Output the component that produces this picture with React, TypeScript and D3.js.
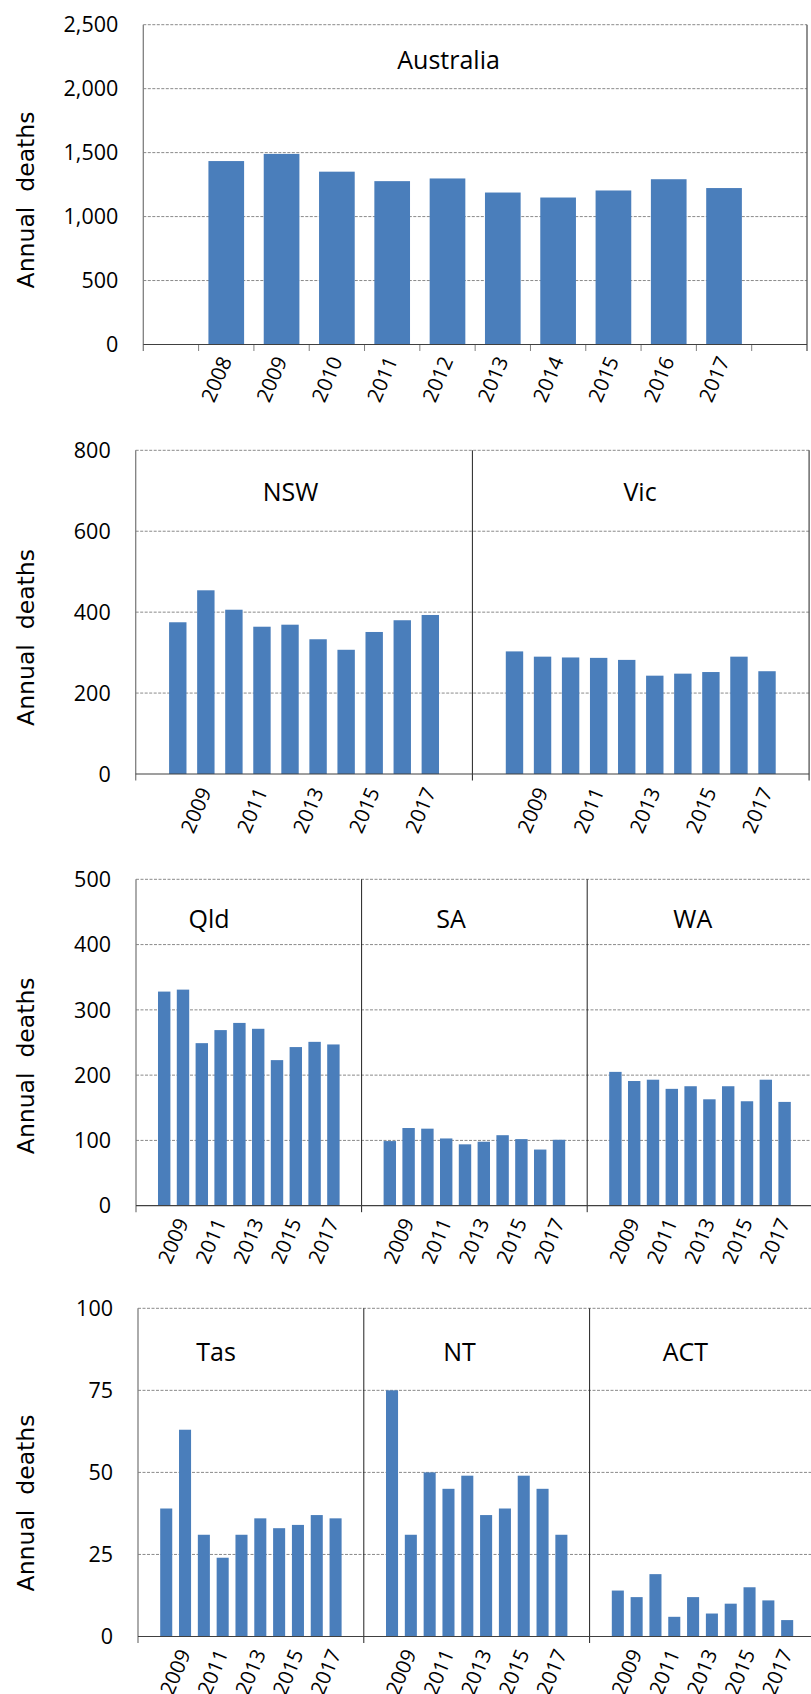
import React from 'react';
import * as d3 from 'd3';

// ---------- data ----------
const years = ['2008', '2009', '2010', '2011', '2012', '2013', '2014', '2015', '2016', '2017'];
const oddYears = ['2009', '2011', '2013', '2015', '2017'];

const australia = [1434, 1490, 1351, 1277, 1298, 1188, 1149, 1204, 1292, 1223];
const nsw = [375, 454, 406, 364, 369, 333, 307, 351, 380, 393];
const vic = [303, 290, 288, 287, 282, 243, 248, 252, 290, 254];
const qld = [328, 331, 249, 269, 280, 271, 223, 243, 251, 247];
const sa = [99, 119, 118, 103, 94, 98, 108, 102, 86, 101];
const wa = [205, 191, 193, 179, 183, 163, 183, 160, 193, 159];
const tas = [39, 63, 31, 24, 31, 36, 33, 34, 37, 36];
const nt = [75, 31, 50, 45, 49, 37, 39, 49, 45, 31];
const act = [14, 12, 19, 6, 12, 7, 10, 15, 11, 5];

const ticksAus = [0, 500, 1000, 1500, 2000, 2500];
const ticksBig = [0, 200, 400, 600, 800];
const ticksMid = [0, 100, 200, 300, 400, 500];
const ticksSmall = [0, 25, 50, 75, 100];

const yTitle = 'Annual  deaths';

// ---------- layout ----------
const W = 811;
const H = 1694;
const BAR = '#4A7EBB';
const GRID = '#8a8a8a';
const FONT = "'Open Sans', 'Liberation Sans', sans-serif";
const TITLE_FONT = "'DejaVu Sans', Verdana, sans-serif";

type Facet = { name: string; values: number[]; titleFrac: number };
type Layout = {
  left: number; top: number; bottom: number; facetW: number; pad: number;
  titleY: number; yTitleY: number; slotTicks: boolean; border: boolean; labelDy: number;
};

const panels: { layout: Layout; facets: Facet[]; ticks: number[]; comma: boolean; labels: string[] }[] = [
  {
    layout: { left: 143.3, top: 24.7, bottom: 344.5, facetW: 663.7, pad: 0.355, titleY: 69, yTitleY: 200, slotTicks: true, border: true, labelDy: 16 },
    facets: [{ name: 'Australia', values: australia, titleFrac: 0.46 }],
    ticks: ticksAus, comma: true, labels: years,
  },
  {
    layout: { left: 135.7, top: 450.3, bottom: 774, facetW: 336.7, pad: 0.38, titleY: 500.7, yTitleY: 637.5, slotTicks: false, border: true, labelDy: 17.5 },
    facets: [
      { name: 'NSW', values: nsw, titleFrac: 0.46 },
      { name: 'Vic', values: vic, titleFrac: 0.498 },
    ],
    ticks: ticksBig, comma: false, labels: oddYears,
  },
  {
    layout: { left: 136, top: 879.3, bottom: 1205.7, facetW: 225.6, pad: 0.34, titleY: 927.7, yTitleY: 1065.8, slotTicks: false, border: true, labelDy: 16.5 },
    facets: [
      { name: 'Qld', values: qld, titleFrac: 0.324 },
      { name: 'SA', values: sa, titleFrac: 0.396 },
      { name: 'WA', values: wa, titleFrac: 0.468 },
    ],
    ticks: ticksMid, comma: false, labels: oddYears,
  },
  {
    layout: { left: 138, top: 1308.3, bottom: 1636.5, facetW: 225.8, pad: 0.36, titleY: 1361, yTitleY: 1503, slotTicks: false, border: true, labelDy: 16.8 },
    facets: [
      { name: 'Tas', values: tas, titleFrac: 0.346 },
      { name: 'NT', values: nt, titleFrac: 0.424 },
      { name: 'ACT', values: act, titleFrac: 0.424 },
    ],
    ticks: ticksSmall, comma: false, labels: oddYears,
  },
];

const slots = ['_pre', ...years, '_post'];
const fmtComma = d3.format(',');

function Panel({ p }: { p: typeof panels[number] }) {
  const L = p.layout;
  const maxV = p.ticks[p.ticks.length - 1];
  const y = d3.scaleLinear().domain([0, maxV]).range([L.bottom, L.top]);
  const right = L.left + L.facetW * p.facets.length;
  const tickLen = 6.5;

  return (
    <g>
      {/* gridlines */}
      {p.ticks.filter((t) => t > 0).map((t) => (
        <line key={'g' + t} x1={L.left} x2={right} y1={y(t)} y2={y(t)} stroke={GRID} strokeWidth={1} strokeDasharray="3,1.5" />
      ))}
      {/* y tick labels */}
      {p.ticks.map((t) => (
        <text key={'t' + t} x={L.left - 25} y={y(t)} dy="0.36em" textAnchor="end" fontFamily={FONT} fontSize={21.5} fill="#000">
          {p.comma ? fmtComma(t) : String(t)}
        </text>
      ))}
      {/* y title */}
      <text
        transform={`translate(33.5,${L.yTitleY}) rotate(-90)`}
        textAnchor="middle" fontFamily={TITLE_FONT} fontSize={23.5} fill="#000"
        style={{ whiteSpace: 'pre' }}
      >
        {yTitle}
      </text>

      {p.facets.map((f, fi) => {
        const x0 = L.left + fi * L.facetW;
        const x = d3.scaleBand<string>().domain(slots).range([x0, x0 + L.facetW]).paddingInner(L.pad).paddingOuter(L.pad / 2);
        const step = x.step();
        return (
          <g key={f.name}>
            {years.map((yr, i) => (
              <rect key={yr} x={x(yr)!} width={x.bandwidth()} y={y(f.values[i])} height={y(0) - y(f.values[i])} fill={BAR} />
            ))}
            {p.labels.map((yr) => {
              const cx = (x(yr) as number) + x.bandwidth() / 2;
              return (
                <text
                  key={'l' + yr}
                  transform={`translate(${cx + 6},${L.bottom + L.labelDy}) rotate(-67)`}
                  textAnchor="end" fontFamily={FONT} fontSize={20.5} fill="#000"
                >
                  {yr}
                </text>
              );
            })}
            {L.slotTicks && slots.map((s, si) => si === 0 ? null : (
              <line key={'st' + s} x1={x0 + si * step} x2={x0 + si * step} y1={L.bottom} y2={L.bottom + tickLen} stroke="#7f7f7f" strokeWidth={1} />
            ))}
            <text x={x0 + f.titleFrac * L.facetW} y={L.titleY} textAnchor="middle" fontFamily={FONT} fontSize={25} fill="#000">
              {f.name}
            </text>
            {fi > 0 && (
              <line x1={x0} x2={x0} y1={L.top} y2={L.bottom + tickLen} stroke="#222" strokeWidth={1} />
            )}
          </g>
        );
      })}

      {/* left axis */}
      <line x1={L.left} x2={L.left} y1={L.top} y2={L.bottom + tickLen} stroke="#7f7f7f" strokeWidth={1.3} />
      {/* right border */}
      {L.border && (
        <line x1={right} x2={right} y1={L.top} y2={L.bottom + tickLen} stroke="#555" strokeWidth={1.3} />
      )}
      {/* baseline */}
      <line x1={L.left} x2={right} y1={L.bottom} y2={L.bottom} stroke="#404040" strokeWidth={1.2} />
    </g>
  );
}

export default function App() {
  return (
    <svg width={W} height={H} viewBox={`0 0 ${W} ${H}`} style={{ position: 'absolute', left: 0, top: 0, background: '#fff' }}>
      <rect x={0} y={0} width={W} height={H} fill="#fff" />
      {panels.map((p, i) => (
        <Panel key={i} p={p} />
      ))}
    </svg>
  );
}
